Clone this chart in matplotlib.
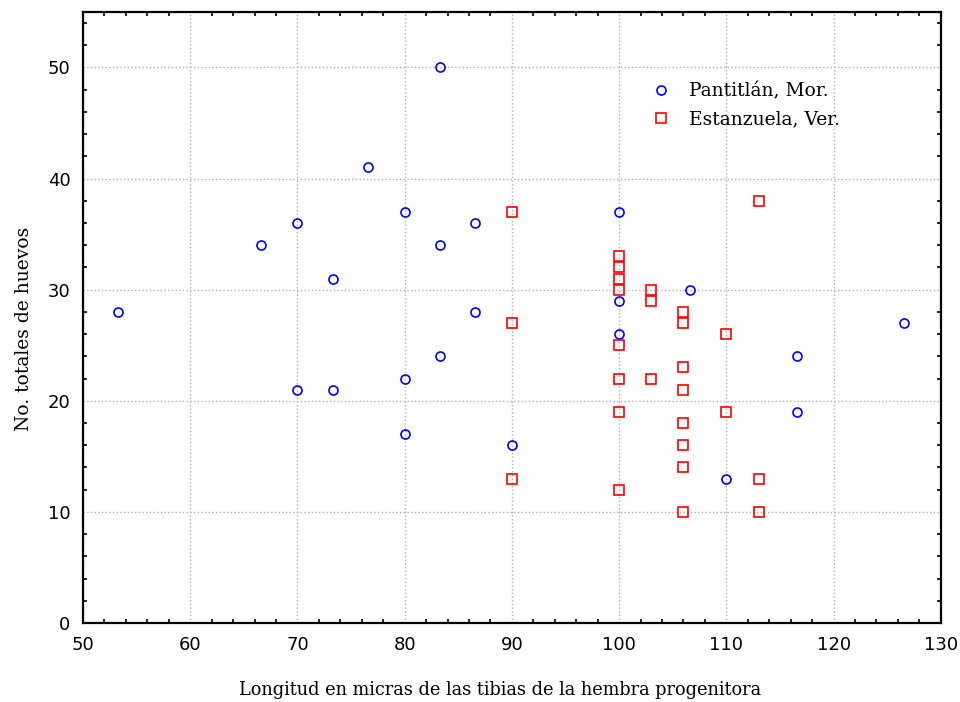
import numpy as np
import matplotlib.pyplot as plt
from matplotlib.ticker import MultipleLocator

# Pantitlán, Mor. (blue circles)
pan_x = [53.3, 66.6, 70, 70, 73.3, 73.3, 76.6, 80, 80, 80, 83.3, 83.3, 83.3,
         86.6, 86.6, 90, 100, 100, 100, 106.6, 110, 116.6, 116.6, 126.6]
pan_y = [28, 34, 36, 21, 31, 21, 41, 37, 22, 17, 50, 34, 24,
         36, 28, 16, 37, 29, 26, 30, 13, 24, 19, 27]

# Estanzuela, Ver. (red squares)
est_x = [90, 90, 90, 100, 100, 100, 100, 100, 100, 100, 100, 103, 103, 103,
         106, 106, 106, 106, 106, 106, 106, 106, 110, 110, 113, 113, 113]
est_y = [37, 27, 13, 33, 32, 31, 30, 25, 22, 19, 12, 30, 29, 22,
         28, 27, 23, 21, 18, 16, 14, 10, 26, 19, 38, 13, 10]

serif = "DejaVu Serif"

fig = plt.figure(figsize=(9.6, 7.02), dpi=100)
ax = fig.add_axes([0.0865, 0.1125, 0.8935, 0.8705])

ax.plot(pan_x, pan_y, "o", ls="none", mfc="none", mec="blue", mew=1.2, ms=6.5,
        label="Pantitlán, Mor.")
ax.plot(est_x, est_y, "s", ls="none", mfc="none", mec="red", mew=1.2, ms=6.5,
        label="Estanzuela, Ver.")

ax.set_xlim(50, 130)
ax.set_ylim(0, 55)
ax.xaxis.set_major_locator(MultipleLocator(10))
ax.yaxis.set_major_locator(MultipleLocator(10))
ax.xaxis.set_minor_locator(MultipleLocator(2))
ax.yaxis.set_minor_locator(MultipleLocator(2))
ax.tick_params(which="major", length=0, labelsize=13, pad=9)
ax.tick_params(which="minor", direction="in", length=3, width=1.2,
               top=True, right=True)
ax.grid(True, which="major", color="#b0b0b0", ls=":", lw=1)
for s in ax.spines.values():
    s.set_linewidth(1.6)

ax.set_xlabel("Longitud en micras de las tibias de la hembra progenitora",
              family=serif, fontsize=12.8, labelpad=20)
ax.set_ylabel("No. totales de huevos", family=serif, fontsize=13.5, labelpad=11)
ax.xaxis.label.set_x(0.486)
ax.yaxis.label.set_y(0.481)

ax.legend(loc="upper left", bbox_to_anchor=(0.632, 0.912), frameon=False,
          prop={"family": serif, "size": 13.5}, handletextpad=0.5,
          labelspacing=0.5)

fig.savefig("out.png", dpi=100)
